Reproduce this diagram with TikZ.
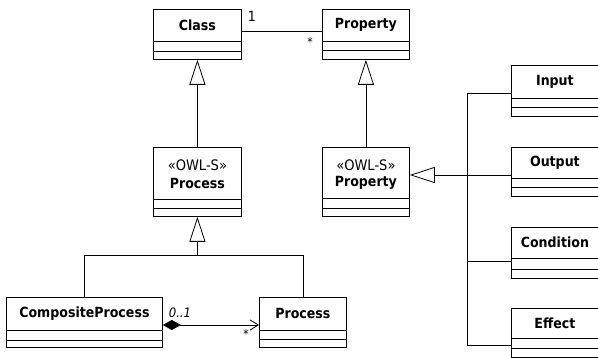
\documentclass[tikz,border=0pt]{standalone}
\usepackage{fontspec}
\setmainfont{DejaVu Sans}[FakeStretch=0.9]
\usetikzlibrary{arrows.meta,calc}
\tikzset{
 x=1pt,y=-1pt,
 box/.style={draw, line width=0.8pt, rectangle, inner sep=0, anchor=north west},
 ttl/.style={font=\fontsize{14}{14}\selectfont\bfseries, inner sep=0},
 ster/.style={font=\fontsize{14.5}{14.5}\selectfont, inner sep=0},
 ln/.style={line width=0.8pt},
 gen/.style={-{Triangle[open,length=25pt,width=16pt]}, line width=0.8pt},
 comp/.style={{Diamond[length=18pt,width=10pt]}-{Straight Barb[length=8pt,width=10pt]}, line width=0.8pt},
 mult/.style={font=\fontsize{14}{14}\selectfont, inner sep=0},
 star/.style={font=\fontsize{12}{12}\selectfont, inner sep=0}
}
\newcommand\umlclass[8]{%
 \node[box, minimum width=#4pt, minimum height=#5pt] (#1) at (#2,#3) {};
 \draw[ln] ($(#1.north west)+(0,#6)$) -- ($(#1.north east)+(0,#6)$);
 \draw[ln] ($(#1.north west)+(0,#7)$) -- ($(#1.north east)+(0,#7)$);
 \node[ttl] (#1-t) at ($(#1.north)+(0,#6/2)$) {#8};
}
\begin{document}
\begin{tikzpicture}
\useasboundingbox (0,0) rectangle (598,358);
\umlclass{cls}{153}{9}{88}{50}{32}{42}{Class}
\umlclass{prop}{322}{9}{87}{50}{32}{41}{Property}
\umlclass{owlproc}{153}{147}{88}{69}{52}{61}{}
\node[ster] (owlproc-s) at ($(owlproc.north)+(0,18)$) {«OWL-S»};
\node[ttl] (owlproc-n) at ($(owlproc.north)+(0,36)$) {Process};
\umlclass{owlprop}{322}{147}{87}{69}{51}{61}{}
\node[ster] (owlprop-s) at ($(owlprop.north)+(0,18)$) {«OWL-S»};
\node[ttl] (owlprop-n) at ($(owlprop.north)+(0,36)$) {Property};
\umlclass{cp}{6}{297}{156}{50}{33}{43}{CompositeProcess}
\umlclass{proc}{259}{297}{87}{50}{33}{42}{Process}
\umlclass{input}{511}{65}{87}{51}{33}{42}{Input}
\umlclass{output}{511}{147}{87}{49}{31}{40}{Output}
\umlclass{condition}{511}{227}{87}{51}{31}{42}{Condition}
\umlclass{effect}{511}{308}{87}{49}{30}{40}{Effect}
% association Class - Property
\draw[ln] ($(cls.north east)+(0,22)$) -- ($(prop.north west)+(0,22)$);
\node[mult] (m1) at (252,16) {1};
\node[star] (m2) at (310,42) {*};
% generalizations
\draw[gen] (owlproc.north) -- (cls.south);
\draw[gen] (owlprop.north) -- (prop.south);
\coordinate (pj) at ($(owlproc.south)+(0,39)$);
\draw[ln] (cp.north) |- (pj) -| (proc.north);
\draw[gen] (pj) -- (owlproc.south);
% composition
\draw[comp] ($(cp.north east)+(0,28)$) -- ($(proc.north west)+(0,28)$);
\node[mult, font=\fontsize{13}{13}\selectfont\itshape] (m3) at (180,313) {0..1};
\node[star] (m4) at (246,334) {*};
% right tree
\draw[gen] ($(output.north west)+(0,28)$) -- ($(owlprop.north east)+(0,28)$);
\draw[ln] ($(input.north west)+(0,28)$) -| ($(effect.north west)+(-44,37)$) -- ($(effect.north west)+(0,37)$);
\draw[ln] ($(condition.north west)+(0,34)$) -- +(-44,0);
\end{tikzpicture}
\end{document}
